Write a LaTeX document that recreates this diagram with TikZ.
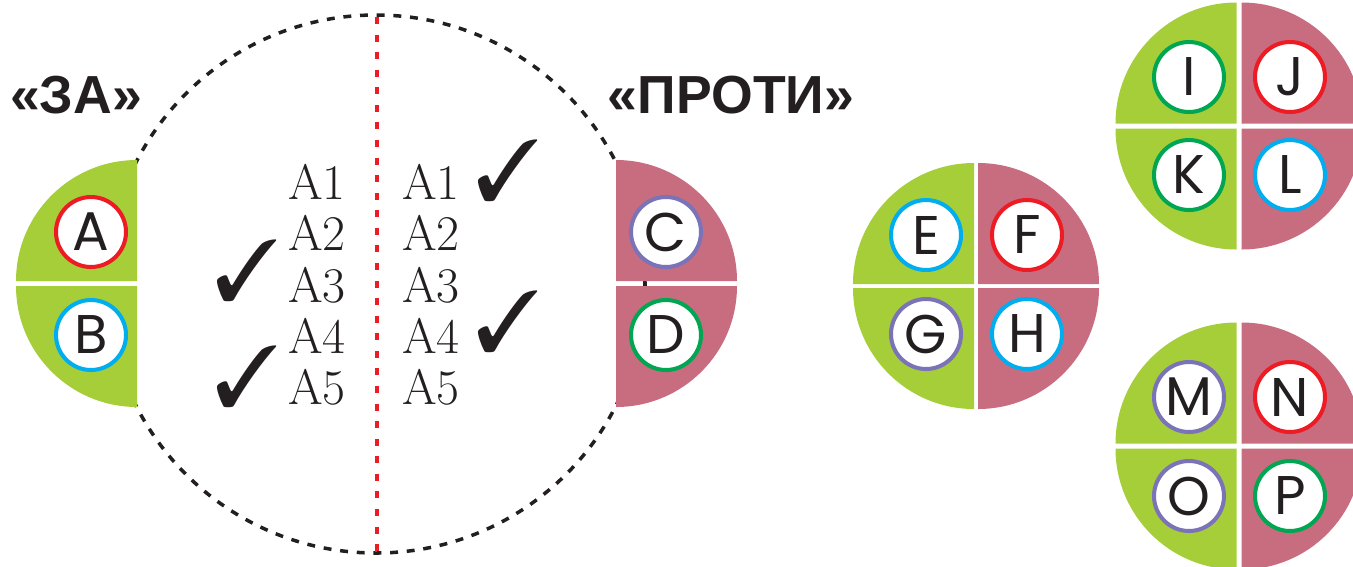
\documentclass[tikz,border=0pt]{standalone}
\usepackage{fontspec}
\usepackage{pifont}
\usetikzlibrary{positioning}
\newfontfamily\titlefont{Liberation Sans}
\newfontfamily\letterfont{Poppins}
\definecolor{zagreen}{RGB}{166,206,57}
\definecolor{protipink}{RGB}{200,108,128}
\definecolor{ringred}{RGB}{237,28,36}
\definecolor{ringcyan}{RGB}{0,174,239}
\definecolor{ringviolet}{RGB}{122,115,184}
\definecolor{ringgreen}{RGB}{0,166,81}
\definecolor{inkblack}{RGB}{35,31,32}
\tikzset{
titlenode/.style={inner sep=0pt, text=inkblack, font=\titlefont\bfseries\fontsize{30.5}{30.5}\selectfont},
rownode/.style={inner sep=0pt, text=inkblack, font=\fontsize{28.4}{28.4}\selectfont},
checknode/.style={inner sep=0pt, text=inkblack, font=\fontsize{49}{49}\selectfont},
ringnode/.style={circle, fill=white, line width=2.3pt, minimum size=1.4cm, inner sep=0pt,
                 text=inkblack, font=\letterfont\fontsize{31}{31}\selectfont},
voteline/.style={inkblack, line width=2pt, dash pattern=on 4.5pt off 5pt},
splitline/.style={ringred, line width=2pt, dash pattern=on 4pt off 6pt}
}
% one quarter of a disc: centre, gap shift, start angle, colour
\newcommand{\quarterdisc}[4]{\fill[#4] ([shift={(#2)}]#1) -- ++(#3:121) arc[start angle=#3, delta angle=90, radius=121] -- cycle;}

\begin{document}
\begin{tikzpicture}[x=0.02cm, y=-0.02cm]
\useasboundingbox (0,0) rectangle (1353,566);

%Disc centres
\coordinate (zahalf) at (137,283.5);
\coordinate (protihalf) at (616,283.5);
\coordinate (efgh) at (976,286);
\coordinate (ijkl) at (1239,126);
\coordinate (mnop) at (1239,446);

%Dashed circle and split line
\draw[voteline] (376,284) circle[radius=269];
\draw[splitline] (377,17) -- (377,552);

%Half discs
\quarterdisc{zahalf}{0,-2.5}{180}{zagreen}
\quarterdisc{zahalf}{0,2.5}{90}{zagreen}
\quarterdisc{protihalf}{0,-2.5}{270}{protipink}
\quarterdisc{protihalf}{0,2.5}{0}{protipink}

%Full discs
\quarterdisc{efgh}{-2,-2}{180}{zagreen}
\quarterdisc{efgh}{-2,2}{90}{zagreen}
\quarterdisc{efgh}{2,-2}{270}{protipink}
\quarterdisc{efgh}{2,2}{0}{protipink}
\quarterdisc{ijkl}{-2.5,-2.5}{180}{zagreen}
\quarterdisc{ijkl}{-2.5,2.5}{90}{zagreen}
\quarterdisc{ijkl}{2.5,-2.5}{270}{protipink}
\quarterdisc{ijkl}{2.5,2.5}{0}{protipink}
\quarterdisc{mnop}{-2.5,-2.5}{180}{zagreen}
\quarterdisc{mnop}{-2.5,2.5}{90}{zagreen}
\quarterdisc{mnop}{2.5,-2.5}{270}{protipink}
\quarterdisc{mnop}{2.5,2.5}{0}{protipink}

%Titles
\node[titlenode, anchor=base] (zatitle) at (76,113) {«ЗА»};
\node[titlenode, anchor=base] (protititle) at (731,113) {«ПРОТИ»};

%Arguments
\node[rownode, anchor=base west] (zaA1) at (288,199) {A1};
\node[rownode, anchor=base west] (zaA2) at (288,250) {A2};
\node[rownode, anchor=base west] (zaA3) at (288,302) {A3};
\node[rownode, anchor=base west] (zaA4) at (288,353) {A4};
\node[rownode, anchor=base west] (zaA5) at (288,404) {A5};
\node[rownode, anchor=base west] (protiA1) at (402,199) {A1};
\node[rownode, anchor=base west] (protiA2) at (402,250) {A2};
\node[rownode, anchor=base west] (protiA3) at (402,302) {A3};
\node[rownode, anchor=base west] (protiA4) at (402,353) {A4};
\node[rownode, anchor=base west] (protiA5) at (402,404) {A5};

%Checks
\node[checknode] (zacheckA3) at (247,271) {\ding{51}};
\node[checknode] (zacheckA5) at (247,377) {\ding{51}};
\node[checknode] (proticheckA1) at (508,171) {\ding{51}};
\node[checknode] (proticheckA4) at (508,322) {\ding{51}};

%Rings
\node[ringnode, draw=ringred] (A) at (91,232) {A};
\node[ringnode, draw=ringcyan] (B) at (91,335) {B};
\node[ringnode, draw=ringviolet] (C) at (666,232) {C};
\node[ringnode, draw=ringgreen] (D) at (666,335) {D};
\node[ringnode, draw=ringcyan] (E) at (926,235) {E};
\node[ringnode, draw=ringred] (F) at (1027,235) {F};
\node[ringnode, draw=ringviolet] (G) at (926,334) {G};
\node[ringnode, draw=ringcyan] (H) at (1027,334) {H};
\node[ringnode, draw=ringgreen] (I) at (1189,77) {I};
\node[ringnode, draw=ringred] (J) at (1290,77) {J};
\node[ringnode, draw=ringgreen] (K) at (1189,175) {K};
\node[ringnode, draw=ringcyan] (L) at (1290,175) {L};
\node[ringnode, draw=ringviolet] (M) at (1189,397) {M};
\node[ringnode, draw=ringred] (N) at (1290,397) {N};
\node[ringnode, draw=ringviolet] (O) at (1189,496) {O};
\node[ringnode, draw=ringgreen] (P) at (1290,496) {P};
\end{tikzpicture}
\end{document}
